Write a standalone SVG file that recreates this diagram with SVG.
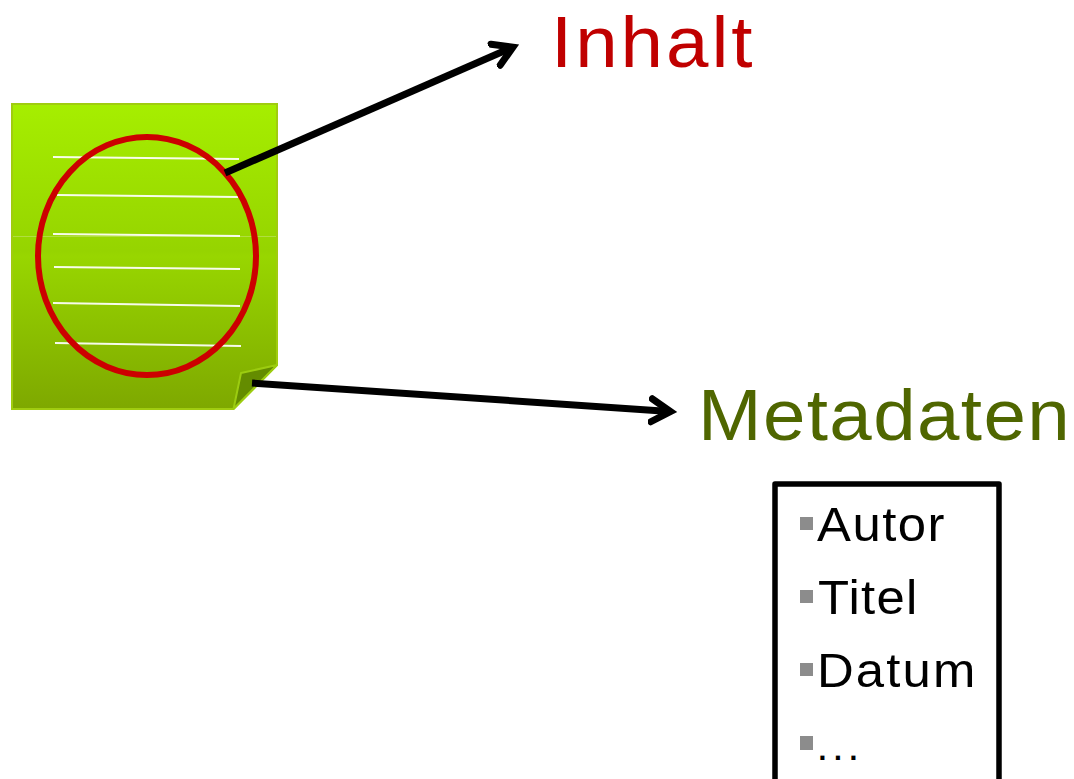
<svg xmlns="http://www.w3.org/2000/svg" width="1074" height="779" viewBox="0 0 1074 779">
<defs>
<linearGradient id="g" x1="0" y1="0" x2="0" y2="1"><stop offset="0" stop-color="#a6ee00"/><stop offset="0.48" stop-color="#96d400"/><stop offset="0.5" stop-color="#98d600"/><stop offset="1" stop-color="#7ea800"/></linearGradient>
<marker id="a" markerUnits="userSpaceOnUse" markerWidth="40" markerHeight="40" refX="21" refY="16" orient="auto" viewBox="0 0 40 40"><path d="M3 4.500 L22 16 L3 27.500" fill="none" stroke="#000" stroke-width="7" stroke-linecap="round" stroke-linejoin="miter" stroke-miterlimit="6"/></marker>
</defs>
<style>
text{font-family:"Liberation Sans",Arial,sans-serif}
.l{stroke:#fff;stroke-width:2;fill:none;opacity:.92}
.c{fill:none;stroke:#000;stroke-width:7;stroke-linecap:butt}
.i{font-size:48px;fill:#000}
.b{fill:#8c8c8c}
</style>
<rect width="1074" height="779" fill="#fff"/>
<g id="document">
<path d="M12 104H277V365L233.500 409H12Z" fill="url(#g)" stroke="#a0cc10" stroke-width="2"/>
<path d="M13 236.500H276" stroke="#b8e050" stroke-width="1" opacity=".8"/>
<path d="M241 373L277 365L233.500 409Z" fill="#648c00" stroke="#9ccc10" stroke-width="2" stroke-linejoin="round"/>
<path class="l" d="M53 157L239 159"/>
<path class="l" d="M57 195L238 197"/>
<path class="l" d="M53 234L240 236"/>
<path class="l" d="M54 267L240 269"/>
<path class="l" d="M53 303L240 306"/>
<path class="l" d="M55 343L241 346"/>
</g>
<g id="ellipse"><ellipse cx="147" cy="256" rx="109" ry="119" fill="none" stroke="#cc0000" stroke-width="6"/></g>
<g id="connectors">
<path class="c" d="M225 173L512 47.500" marker-end="url(#a)"/>
<path class="c" d="M252 383L669.500 411.500" marker-end="url(#a)"/>
</g>
<g id="inhalt"><text transform="translate(551 66.500) scale(1.06 1)" font-size="72" fill="#c00000" letter-spacing="2.800">Inhalt</text></g>
<g id="metadaten"><text transform="translate(698 440) scale(1.06 1)" font-size="72" fill="#4f6600" letter-spacing="1.300">Metadaten</text></g>
<g id="metadata-box">
<path d="M775 779V484H999V779" fill="none" stroke="#000" stroke-width="5.500" stroke-linejoin="round"/>
<rect class="b" x="800" y="517" width="13" height="13"/>
<text class="i" transform="translate(817 541) scale(1.06 1)" letter-spacing="1.400">Autor</text>
<rect class="b" x="800" y="590" width="13" height="13"/>
<text class="i" transform="translate(818 614) scale(1.06 1)" letter-spacing="1.200">Titel</text>
<rect class="b" x="800" y="663" width="13" height="13"/>
<text class="i" transform="translate(817 687) scale(1.06 1)" letter-spacing="2">Datum</text>
<rect class="b" x="800" y="736" width="13" height="14"/>
<text transform="translate(816.500 760) scale(1.06 1)" font-size="40" letter-spacing="3.500">...</text>
</g>
</svg>
